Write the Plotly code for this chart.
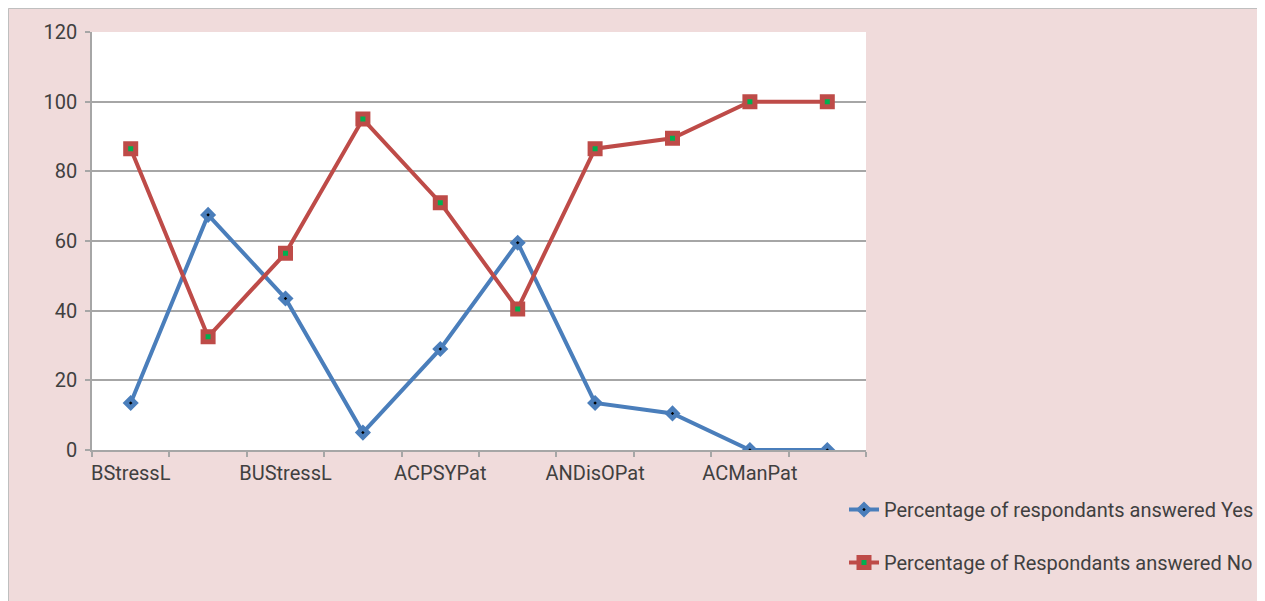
import plotly.graph_objects as go

categories = ["BStressL", "", "BUStressL", "", "ACPSYPat", "", "ANDisOPat", "", "ACManPat", ""]
yes_values = [13.5, 67.5, 43.5, 5, 29, 59.5, 13.5, 10.5, 0, 0]
no_values = [86.5, 32.5, 56.5, 95, 71, 40.5, 86.5, 89.5, 100, 100]
yes_name = "Percentage of respondants answered Yes"
no_name = "Percentage of Respondants answered No"
y_ticks = [0, 20, 40, 60, 80, 100, 120]

x_idx = list(range(len(categories)))
label_idx = [i for i, c in enumerate(categories) if c]
label_txt = [categories[i] for i in label_idx]

W, H = 1254, 593
L, R, T, B = 84, 1254 - 858, 24, 593 - 442
pw, ph = W - L - R, H - T - B

def px(x):
    return (x - L) / pw

def py(y):
    return (H - B - y) / ph

PINK = "#F0DBDB"
GRID = "#A6A6A6"
TXT = "#404040"

fig = go.Figure()
fig.add_trace(go.Scatter(
    x=x_idx, y=yes_values, mode="lines+markers", name=yes_name,
    line=dict(color="#4A7EBB", width=4),
    marker=dict(symbol="diamond", size=7.5, color="black",
                line=dict(color="#4A7EBB", width=4.5)),
    legendgroup="a",
))
fig.add_trace(go.Scatter(
    x=x_idx, y=no_values, mode="lines+markers", name=no_name,
    line=dict(color="#BE4B48", width=4),
    marker=dict(symbol="square", size=10, color="#00B050",
                line=dict(color="#BE4B48", width=5)),
    legendgroup="b",
))

fig.update_layout(
    width=W, height=H,
    margin=dict(l=L, r=R, t=T, b=B, autoexpand=False),
    paper_bgcolor=PINK,
    plot_bgcolor="white",
    font=dict(family="Roboto", size=20, color=TXT),
    showlegend=True,
    legend=dict(x=px(836), y=py(482), xanchor="left", yanchor="top",
                bgcolor="rgba(0,0,0,0)", font=dict(size=20, color=TXT),
                traceorder="grouped", tracegroupgap=24),
    shapes=[
        dict(type="rect", xref="paper", yref="paper", layer="above",
             x0=px(0.5), x1=px(W - 0.5), y0=py(0.5), y1=py(H + 2),
             fillcolor="rgba(0,0,0,0)", line=dict(color="#BFBFBF", width=1)),
    ],
    xaxis=dict(
        range=[-0.5, len(categories) - 0.5],
        tickmode="array", tickvals=label_idx, ticktext=label_txt,
        ticks="", showgrid=False, zeroline=False,
        showline=True, linecolor=GRID, linewidth=1.5,
        minor=dict(tickmode="linear", tick0=-0.5, dtick=1, ticks="outside",
                   ticklen=5, tickcolor=GRID, tickwidth=1.5, showgrid=False),
        ticklabelstandoff=4,
        tickfont=dict(size=20, color=TXT),
    ),
    yaxis=dict(
        range=[0, 120], tickmode="array", tickvals=y_ticks,
        ticks="outside", ticklen=5, tickcolor=GRID, tickwidth=1.5,
        showgrid=True, gridcolor=GRID, gridwidth=1.5,
        zeroline=False, showline=True, linecolor=GRID, linewidth=1.5,
        ticklabelstandoff=4,
        tickfont=dict(size=20, color=TXT),
    ),
)

fig.write_html("out.html")
